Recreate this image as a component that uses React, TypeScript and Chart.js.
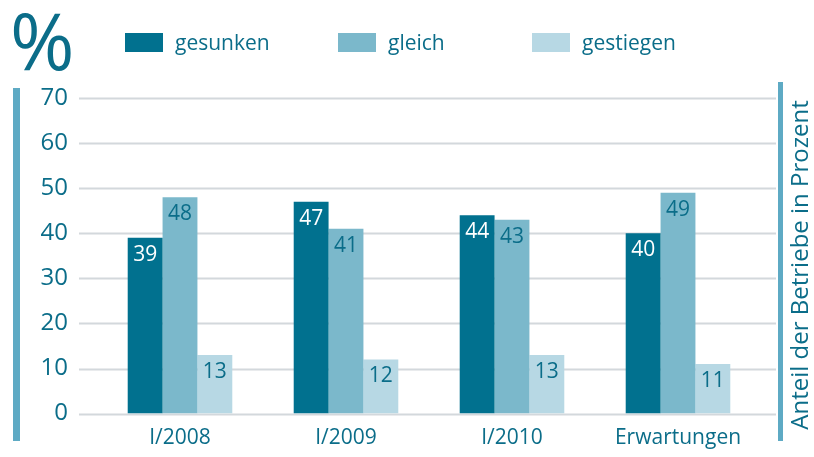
import React, { useEffect, useRef } from 'react';
import { Chart, registerables } from 'chart.js';

Chart.register(...registerables);

const categories = ['I/2008', 'I/2009', 'I/2010', 'Erwartungen'];
const seriesNames = ['gesunken', 'gleich', 'gestiegen'];
const gesunken = [39, 47, 44, 40];
const gleich = [48, 41, 43, 49];
const gestiegen = [13, 12, 13, 11];
const yMax = 70;
const yStep = 10;
const sideTitle = 'Anteil der Betriebe in Prozent';
const unitSign = '%';

const TEAL_TEXT = '#0b6d89';
const DARK = '#01718f';
const MID = '#7bb8cb';
const LIGHT = '#b7d8e4';
const SIDE = '#5eaac4';
const GRID = '#d3d8dc';
const FONT = '"Open Sans", "Noto Sans", sans-serif';

const colors = [DARK, MID, LIGHT];
const labelColors = ['#ffffff', TEAL_TEXT, TEAL_TEXT];

const decorPlugin = {
  id: 'decor',
  beforeDatasetsDraw(chart: any) {
    const { ctx, scales } = chart;
    const y = scales.y;
    ctx.save();
    ctx.strokeStyle = GRID;
    ctx.lineWidth = 2;
    for (let v = 0; v <= yMax; v += yStep) {
      const py = Math.round(y.getPixelForValue(v)) + 0.5;
      ctx.beginPath();
      ctx.moveTo(79, py);
      ctx.lineTo(776, py);
      ctx.stroke();
    }
    ctx.restore();
  },
  afterDatasetsDraw(chart: any) {
    const { ctx } = chart;
    ctx.save();
    // value labels
    chart.data.datasets.forEach((ds: any, di: number) => {
      const meta = chart.getDatasetMeta(di);
      meta.data.forEach((bar: any, i: number) => {
        ctx.fillStyle = labelColors[di];
        ctx.font = `21px ${FONT}`;
        ctx.textAlign = 'center';
        ctx.textBaseline = 'middle';
        ctx.fillText(String(ds.data[i]), bar.x, bar.y + 17);
      });
    });
    // side bars
    ctx.fillStyle = SIDE;
    ctx.fillRect(13, 88, 7, 353);
    ctx.fillRect(778, 82, 5, 359);
    // percent sign
    ctx.fillStyle = TEAL_TEXT;
    ctx.font = `78px ${FONT}`;
    ctx.textAlign = 'left';
    ctx.textBaseline = 'alphabetic';
    ctx.fillText(unitSign, 10, 70);
    // legend
    const lx = [125, 338, 532];
    seriesNames.forEach((name, i) => {
      ctx.fillStyle = colors[i];
      ctx.fillRect(lx[i], 33, 38, 19);
      ctx.fillStyle = TEAL_TEXT;
      ctx.font = `21px ${FONT}`;
      ctx.textAlign = 'left';
      ctx.textBaseline = 'middle';
      ctx.fillText(name, lx[i] + 50, 44);
    });
    // rotated title
    ctx.translate(801, 265);
    ctx.rotate(-Math.PI / 2);
    ctx.font = `24px ${FONT}`;
    ctx.textAlign = 'center';
    ctx.textBaseline = 'middle';
    ctx.fillStyle = TEAL_TEXT;
    ctx.fillText(sideTitle, 0, 0);
    ctx.restore();
  },
};

export default function App() {
  const ref = useRef<HTMLCanvasElement>(null);
  useEffect(() => {
    document.body.style.margin = '0';
    const chart = new Chart(ref.current!, {
      type: 'bar',
      data: {
        labels: categories,
        datasets: [gesunken, gleich, gestiegen].map((d, i) => ({
          label: seriesNames[i],
          data: d,
          backgroundColor: colors[i],
          borderWidth: 0,
          categoryPercentage: 0.63,
          barPercentage: 1,
        })),
      },
      options: {
        responsive: false,
        animation: false,
        events: [],
        layout: { padding: { left: 0, right: 53, top: 98, bottom: 0 } },
        plugins: { legend: { display: false }, tooltip: { enabled: false } },
        scales: {
          x: {
            grid: { display: false, drawTicks: false },
            border: { display: false },
            ticks: { color: TEAL_TEXT, font: { family: FONT, size: 21 }, padding: 12, maxRotation: 0 },
            afterFit: (s: any) => { s.height = 42; },
          },
          y: {
            min: 0,
            max: yMax,
            grid: { display: false, drawTicks: false },
            border: { display: false },
            ticks: { stepSize: yStep, color: TEAL_TEXT, font: { family: FONT, size: 24 }, padding: 29 },
            afterFit: (s: any) => { s.width = 97; },
          },
        },
      },
      plugins: [decorPlugin],
    });
    return () => chart.destroy();
  }, []);
  return <canvas ref={ref} width={814} height={457} style={{ display: 'block' }} />;
}
